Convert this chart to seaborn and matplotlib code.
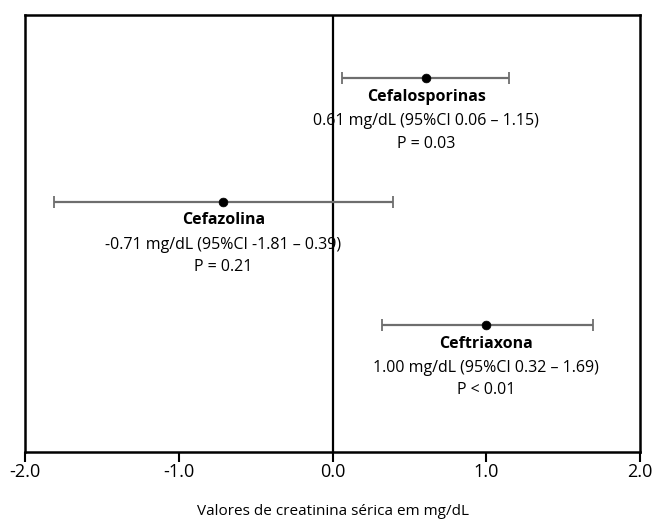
import matplotlib
matplotlib.use("Agg")
import matplotlib.pyplot as plt
import seaborn as sns
import pandas as pd

# forest-plot data
grupos = ["Cefalosporinas", "Cefazolina", "Ceftriaxona"]
media = [0.61, -0.71, 1.00]
ic_baixo = [0.06, -1.81, 0.32]
ic_alto = [1.15, 0.39, 1.69]
p_valor = ["P = 0.03", "P = 0.21", "P < 0.01"]
posicao = [3, 2, 1]
rotulos = ["0.61 mg/dL (95%CI 0.06 \u2013 1.15)",
           "-0.71 mg/dL (95%CI -1.81 \u2013 0.39)",
           "1.00 mg/dL (95%CI 0.32 \u2013 1.69)"]
xticks = [-2.0, -1.0, 0.0, 1.0, 2.0]

df = pd.DataFrame({"grupo": grupos, "media": media, "lo": ic_baixo,
                   "hi": ic_alto, "y": posicao})

sns.set_style("white")
plt.rcParams["font.family"] = ["Open Sans", "DejaVu Sans"]
plt.rcParams["text.color"] = "black"
plt.rcParams["xtick.color"] = "black"
plt.rcParams["axes.labelcolor"] = "black"

fig = plt.figure(figsize=(6.54, 5.21), dpi=100)
ax = fig.add_axes([0.038, 0.132, 0.941, 0.839])

# confidence intervals
ax.errorbar(df["media"], df["y"],
            xerr=[df["media"] - df["lo"], df["hi"] - df["media"]],
            fmt="none", ecolor="#6e6e6e", elinewidth=1.6, capsize=4, capthick=1.3)
sns.scatterplot(data=df, x="media", y="y", color="black", s=40,
                edgecolor="black", zorder=5, ax=ax, legend=False)

ax.axvline(0, color="black", linewidth=1.6, zorder=1)

for i in range(len(df)):
    x = df["media"][i]
    y = df["y"][i]
    ax.text(x, y - 0.15, grupos[i], ha="center", va="center",
            fontsize=11.5, fontweight="bold")
    ax.text(x, y - 0.35, rotulos[i], ha="center", va="center", fontsize=11.5)
    ax.text(x, y - 0.53, p_valor[i], ha="center", va="center", fontsize=11.5)

ax.set_xlim(-2, 2)
ax.set_ylim(-0.03, 3.51)
ax.set_xticks(xticks)
ax.set_xticklabels(["%.1f" % v for v in xticks], fontsize=13)
ax.set_yticks([])
ax.tick_params(axis="x", direction="out", length=7, width=1.5,
               color="black", bottom=True, pad=1)
for s in ax.spines.values():
    s.set_linewidth(1.8)
    s.set_color("black")
ax.set_xlabel("Valores de creatinina s\u00e9rica em mg/dL", fontsize=11, labelpad=16)
ax.set_ylabel("")

fig.savefig("out.png", dpi=100)
